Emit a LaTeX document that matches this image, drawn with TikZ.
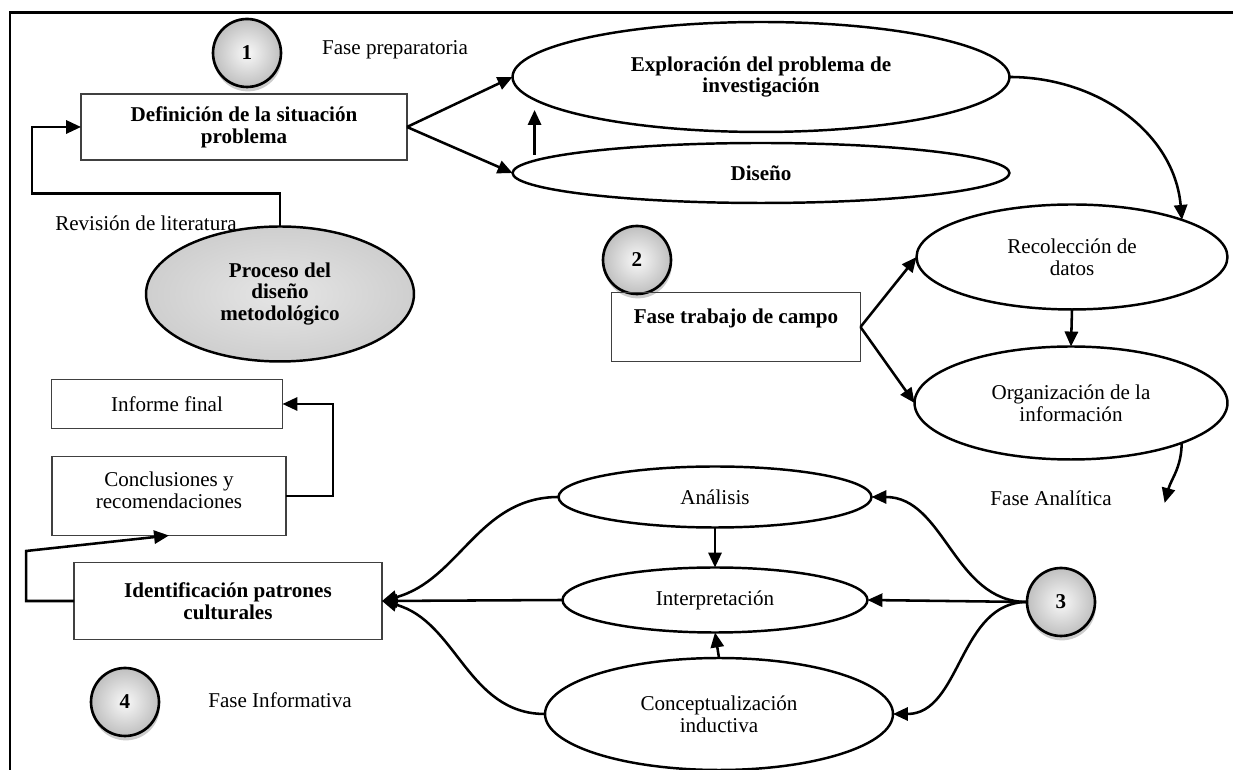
\documentclass[tikz,border=0pt]{standalone}
\usepackage{fontspec}
\setmainfont{Liberation Serif}
\usetikzlibrary{shapes.geometric,arrows.meta,shadows}
\begin{document}
\begin{tikzpicture}[x=0.02cm,y=0.02cm,inner sep=0pt,outer sep=0pt,line width=1.45pt,
>={Triangle[length=8.5pt,width=7.5pt]},
every node/.style={font=\fontsize{12}{12.5}\selectfont,align=center},
bftext/.style={font=\fontsize{12}{12.5}\selectfont\bfseries},
stepbox/.style={draw=black!75,line width=0.8pt,rectangle,inner sep=2pt},
oval/.style={draw,ellipse,line width=1.4pt,inner sep=0pt},
phase/.style={draw,circle,line width=1.5pt,minimum size=1.36cm,inner color=gray!5,outer color=gray!50,
  drop shadow={opacity=0.4,shadow xshift=0.5pt,shadow yshift=-2.5pt},bftext}]
\useasboundingbox (0,0) rectangle (1233,770);
\draw[line width=1.7pt] (10,0) -- (10,757) -- (1233,757);
\draw (247,717) node[phase] (c1) {1};
\draw (395,720) node (t1) {Fase preparatoria};
\draw (244,643) node[stepbox,minimum width=6.52cm,minimum height=1.32cm,bftext] (def) {Definición de la situación\\problema};
\draw (761,693) node[oval,minimum width=9.94cm,minimum height=2.2cm,bftext] (explo) {Exploración del problema de\\investigación};
\draw (761,597) node[oval,minimum width=9.94cm,minimum height=1.2cm,bftext] (diseno) {Diseño};
\draw (146,547) node (t0) {Revisión de literatura};
\draw (280,476) node[oval,minimum width=5.36cm,minimum height=2.7cm,inner color=gray!20,outer color=gray!38,bftext] (proc) {Proceso del\\diseño\\metodológico};
\draw (637,510) node[phase] (c2) {2};
\draw (736,443) node[stepbox,minimum width=4.98cm,minimum height=1.38cm,bftext] (campo) {Fase trabajo de campo\\\mbox{}};
\draw (1072,513) node[oval,minimum width=6.22cm,minimum height=2.1cm] (recol) {Recolección de\\datos};
\draw (1071,367) node[oval,minimum width=6.26cm,minimum height=2.26cm] (org) {Organización de la\\información};
\draw (1051,272) node (t3) {Fase Analítica};
\draw (715,273) node[oval,minimum width=6.26cm,minimum height=1.22cm] (anal) {Análisis};
\draw (715,170) node[oval,minimum width=6.1cm,minimum height=1.3cm] (interp) {Interpretación};
\draw (719,56) node[oval,minimum width=6.96cm,minimum height=2.24cm] (concep) {Conceptualización\\inductiva};
\draw (1061,168) node[phase] (c3) {3};
\draw (228,169) node[stepbox,minimum width=6.16cm,minimum height=1.54cm,bftext] (ident) {Identificación patrones\\culturales};
\draw (169,274) node[stepbox,minimum width=4.68cm,minimum height=1.58cm] (concl) {Conclusiones y\\recomendaciones\\[-6pt]\mbox{}};
\draw (167,366) node[stepbox,minimum width=4.62cm,minimum height=0.98cm] (inf) {Informe final};
\draw (125,68) node[phase] (c4) {4};
\draw (280,70) node (t4) {Fase Informativa};
\draw[->] (def.east) -- (explo.west);
\draw[->] (def.east) -- (diseno.west);
\draw[->] (diseno.west) ++(22,18) -- ++(0,45);
\draw[->] (proc.north) |- ++(-248,33) |- (def.west);
\draw[->] (explo.east) to[out=0,in=95] (recol.north east);
\draw[->] (campo.east) -- (recol.west);
\draw[->] (campo.east) -- (org.west);
\draw[->] (recol.south) -- (org.north);
\draw[->] (org.south east) to[out=-90,in=75] ++(-17,-60);
\draw[->] (c3.west) to[out=180,in=0] (anal.east);
\draw[->] (c3.west) -- (interp.east);
\draw[->] (c3.west) to[out=180,in=0] (concep.east);
\draw[->] (anal.south) -- (interp.north);
\draw[->] (concep.north) -- (interp.south);
\draw[->] (anal.west) to[out=180,in=15] (ident.east);
\draw[->] (interp.west) -- (ident.east);
\draw[->] (concep.west) to[out=180,in=-15] (ident.east);
\draw[->] (concl.east) -- ++(47,0) |- (inf.east);
\draw[->] (ident.west) -- ++(-48,0) -- ++(0,50) -- (concl.south);
\end{tikzpicture}
\end{document}
